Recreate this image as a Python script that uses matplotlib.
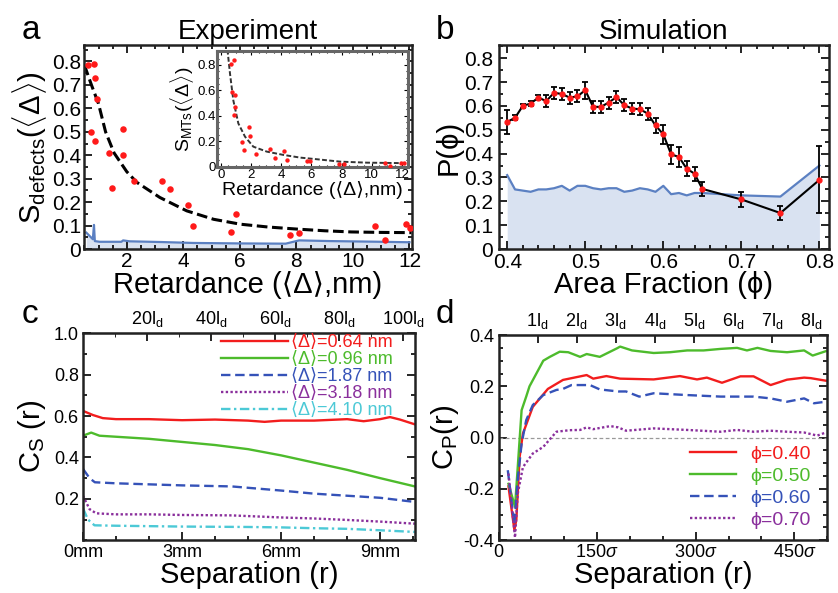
import numpy as np
import matplotlib
matplotlib.use("Agg")
import matplotlib.pyplot as plt
from matplotlib.ticker import AutoMinorLocator, MultipleLocator

plt.rcParams['font.family'] = ['Liberation Sans', 'DejaVu Sans']
plt.rcParams['mathtext.fontset'] = 'custom'
plt.rcParams['mathtext.rm'] = 'Liberation Sans'
plt.rcParams['mathtext.it'] = 'Liberation Sans:italic'
plt.rcParams['mathtext.bf'] = 'Liberation Sans:bold'

# ---------------- panel a: experiment ----------------
a_pts_x = [0.62, 0.84, 0.89, 0.93, 0.75, 0.86, 1.37, 1.49, 1.85, 1.88, 2.26, 3.23,
           3.53, 4.16, 4.36, 5.70, 5.87, 7.78, 8.10, 10.79, 11.12, 11.87, 12.02]
a_pts_y = [0.785, 0.79, 0.73, 0.64, 0.50, 0.46, 0.41, 0.26, 0.51, 0.40, 0.29, 0.29,
           0.256, 0.19, 0.10, 0.074, 0.149, 0.059, 0.07, 0.099, 0.039, 0.109, 0.09]
a_fit_x = [0.5, 0.75, 1.0, 1.25, 1.55, 2.0, 2.35, 3.17, 4.12, 5.07, 6.02, 7.0,
           8.04, 9.0, 9.94, 11.0, 12.07]
a_fit_y = [0.785, 0.70, 0.62, 0.50, 0.41, 0.33, 0.285, 0.22, 0.163, 0.127, 0.106,
           0.094, 0.085, 0.078, 0.073, 0.071, 0.07]
a_null_x = [0.57, 0.80, 0.84, 0.87, 1.04, 1.81, 1.87, 2.1, 3.2, 4.36, 6.0, 7.62,
            8.1, 9.2, 11.0, 12.0]
a_null_y = [0.07, 0.042, 0.103, 0.034, 0.031, 0.031, 0.037, 0.033, 0.03, 0.026,
            0.024, 0.023, 0.037, 0.034, 0.031, 0.029]

# inset
in_pts_x = [0.66, 0.88, 0.77, 0.92, 0.96, 0.88, 1.39, 1.52, 1.89, 1.94, 2.31, 3.26,
            3.59, 4.2, 4.4, 5.72, 5.92, 7.84, 8.15, 10.86, 11.19, 11.96, 12.11]
in_pts_y = [0.805, 0.84, 0.59, 0.56, 0.47, 0.41, 0.19, 0.134, 0.31, 0.24, 0.102,
            0.137, 0.071, 0.123, 0.053, 0.047, 0.042, 0.024, 0.024, 0.027, 0.008,
            0.027, 0.029]
in_fit_x = [0.44, 0.61, 0.83, 1.16, 1.6, 2.15, 3.04, 4.14, 5.24, 6.34, 7.9, 9.65, 12.18]
in_fit_y = [0.92, 0.73, 0.52, 0.34, 0.236, 0.157, 0.118, 0.092, 0.071, 0.058, 0.039,
            0.031, 0.027]

# ---------------- panel b: simulation ----------------
b_phi = [0.40, 0.41, 0.42, 0.43, 0.44, 0.45, 0.46, 0.47, 0.48, 0.49, 0.50, 0.51,
         0.52, 0.53, 0.54, 0.55, 0.56, 0.57, 0.58, 0.59, 0.60, 0.61, 0.62, 0.63,
         0.64, 0.65, 0.70, 0.75, 0.80]
b_p = [0.533, 0.55, 0.60, 0.61, 0.635, 0.62, 0.655, 0.65, 0.635, 0.64, 0.666, 0.596,
       0.596, 0.614, 0.637, 0.603, 0.589, 0.586, 0.568, 0.518, 0.481, 0.397, 0.386,
       0.337, 0.316, 0.252, 0.208, 0.151, 0.29]
b_err = [0.05, 0.01, 0.01, 0.01, 0.01, 0.025, 0.025, 0.025, 0.025, 0.025, 0.035,
         0.025, 0.025, 0.025, 0.025, 0.025, 0.025, 0.025, 0.025, 0.03, 0.04, 0.04,
         0.04, 0.03, 0.03, 0.03, 0.03, 0.03, 0.14]
b_null_x = [0.40, 0.41, 0.42, 0.43, 0.44, 0.45, 0.46, 0.47, 0.48, 0.49, 0.50, 0.51,
            0.52, 0.53, 0.54, 0.55, 0.56, 0.57, 0.58, 0.59, 0.60, 0.61, 0.62, 0.63,
            0.64, 0.65, 0.70, 0.75, 0.80]
b_null_y = [0.31, 0.25, 0.245, 0.24, 0.25, 0.25, 0.255, 0.265, 0.245, 0.265, 0.265,
            0.255, 0.25, 0.255, 0.255, 0.24, 0.245, 0.255, 0.25, 0.24, 0.265, 0.23,
            0.235, 0.225, 0.235, 0.235, 0.225, 0.22, 0.35]

# ---------------- panel c: experiment correlations ----------------
c_labels = ['⟨Δ⟩=0.64 nm', '⟨Δ⟩=0.96 nm', '⟨Δ⟩=1.87 nm', '⟨Δ⟩=3.18 nm',
            '⟨Δ⟩=4.10 nm']
c_red_x = [0, 0.3, 0.6, 1.0, 2, 3, 4, 5, 5.5, 6, 7, 8, 8.5, 9, 9.3, 9.6, 10.05]
c_red_y = [0.625, 0.605, 0.59, 0.585, 0.585, 0.58, 0.583, 0.578, 0.572, 0.578,
           0.578, 0.585, 0.575, 0.585, 0.595, 0.583, 0.56]
c_green_x = [0, 0.25, 0.5, 1, 2, 3, 4, 5, 6, 7, 8, 9, 10.05]
c_green_y = [0.505, 0.52, 0.505, 0.50, 0.49, 0.475, 0.46, 0.44, 0.41, 0.375, 0.34,
             0.30, 0.26]
c_blue_x = [0, 0.2, 0.36, 1, 2, 3, 4.5, 6, 7, 8, 9, 10.05]
c_blue_y = [0.345, 0.30, 0.28, 0.275, 0.27, 0.265, 0.26, 0.24, 0.225, 0.215, 0.205,
            0.185]
c_purple_x = [0, 0.2, 0.4, 1, 2, 3, 4.5, 6, 7, 8, 9, 10.05]
c_purple_y = [0.215, 0.15, 0.13, 0.125, 0.125, 0.122, 0.12, 0.11, 0.105, 0.098,
              0.09, 0.08]
c_cyan_x = [0, 0.15, 0.35, 1, 2, 3, 5, 6, 7, 8, 9, 10.05]
c_cyan_y = [0.155, 0.10, 0.072, 0.07, 0.068, 0.066, 0.064, 0.062, 0.058, 0.055,
            0.048, 0.04]

# ---------------- panel d: simulation correlations ----------------
d_labels = ['ϕ=0.40', 'ϕ=0.50', 'ϕ=0.60', 'ϕ=0.70']
d_red_x = [15, 24, 27, 32, 37, 52, 75, 98, 134, 144, 164, 185, 236, 276, 302, 317,
           340, 368, 388, 414, 439, 465, 475, 498]
d_red_y = [-0.19, -0.36, -0.32, -0.075, 0.016, 0.12, 0.19, 0.225, 0.244, 0.23, 0.24,
           0.23, 0.227, 0.24, 0.227, 0.234, 0.214, 0.239, 0.239, 0.205, 0.226, 0.234,
           0.232, 0.222]
d_green_x = [15, 25, 35, 42, 47, 68, 78, 93, 106, 124, 134, 154, 180, 185, 203, 236,
             261, 287, 312, 338, 363, 378, 394, 414, 439, 465, 478, 498]
d_green_y = [-0.18, -0.27, 0.107, 0.16, 0.2, 0.30, 0.315, 0.335, 0.333, 0.315, 0.326,
             0.315, 0.348, 0.355, 0.34, 0.33, 0.333, 0.34, 0.34, 0.346, 0.35, 0.34,
             0.35, 0.338, 0.333, 0.34, 0.32, 0.337]
d_blue_x = [14, 24, 29, 35, 42, 52, 68, 88, 98, 111, 139, 154, 182, 194, 214, 236,
            287, 338, 388, 414, 439, 465, 480, 498]
d_blue_y = [-0.127, -0.34, -0.166, -0.023, 0.068, 0.127, 0.166, 0.186, 0.19, 0.205,
            0.205, 0.188, 0.18, 0.18, 0.16, 0.173, 0.166, 0.16, 0.16, 0.153, 0.14,
            0.153, 0.134, 0.14]
d_purple_x = [15, 25, 29, 37, 52, 68, 88, 108, 124, 134, 144, 170, 182, 194, 236, 287,
              338, 363, 388, 414, 439, 465, 485, 498]
d_purple_y = [-0.14, -0.39, -0.22, -0.115, -0.062, -0.036, 0.023, 0.029, 0.03, 0.04,
              0.033, 0.045, 0.04, 0.027, 0.036, 0.03, 0.023, 0.03, 0.023, 0.027, 0.023,
              0.02, 0.008, 0.02]

RED = '#f21d1d'
GREEN = '#4dbb2c'
BLUE = '#3552b8'
PURPLE = '#8a2f9c'
CYAN = '#4cc9d6'
NULL_LINE = '#5b80c2'
NULL_FILL = '#d9e2f1'


def style_axis(ax, lw=1.8):
    for s in ax.spines.values():
        s.set_linewidth(lw)
        s.set_color('#222222')
    ax.tick_params(which='both', direction='in', top=True, right=True, width=1.2)
    ax.tick_params(which='major', length=6)
    ax.tick_params(which='minor', length=3)


fig = plt.figure(figsize=(8.38, 5.93), dpi=100)

# ---- a ----
ax_a = fig.add_axes([0.100, 0.580, 0.392, 0.344])
ax_a.fill_between(a_null_x, a_null_y, 0, color=NULL_FILL, lw=0)
ax_a.plot(a_null_x, a_null_y, color=NULL_LINE, lw=1.6)
ax_a.plot(a_fit_x, a_fit_y, color='black', ls=(0, (3.5, 1.5)), lw=2.2)
ax_a.scatter(a_pts_x, a_pts_y, s=22, color='#ff1a1a', zorder=3, lw=0)
ax_a.set_xlim(0.48, 12.1)
ax_a.set_ylim(0, 0.87)
ax_a.set_xticks([2, 4, 6, 8, 10, 12])
ax_a.set_yticks(np.arange(0, 0.81, 0.1))
ax_a.set_yticklabels(['0', '0.1', '0.2', '0.3', '0.4', '0.5', '0.6', '0.7', '0.8'])
ax_a.xaxis.set_minor_locator(MultipleLocator(0.5))
ax_a.yaxis.set_minor_locator(AutoMinorLocator(2))
style_axis(ax_a)
ax_a.tick_params(labelsize=15, pad=2)
ax_a.set_xlabel('Retardance (⟨Δ⟩,nm)', fontsize=21, labelpad=0)
ax_a.set_ylabel(r'S$_{\rm defects}$$(\langle\Delta\rangle)$', fontsize=21, labelpad=2)
ax_a.set_title('Experiment', fontsize=20, pad=3)

# inset
ax_in = fig.add_axes([0.259, 0.718, 0.228, 0.196])
ax_in.plot(in_fit_x, in_fit_y, color='#333333', ls=(0, (2.5, 1.2)), lw=1.4)
ax_in.scatter(in_pts_x, in_pts_y, s=10, color='#ff1a1a', zorder=3, lw=0)
ax_in.set_xlim(-0.25, 12.4)
ax_in.set_ylim(-0.005, 0.91)
ax_in.set_xticks([0, 2, 4, 6, 8, 10, 12])
ax_in.set_yticks([0, 0.2, 0.4, 0.6, 0.8])
ax_in.set_yticklabels(['0', '0.2', '0.4', '0.6', '0.8'])
ax_in.xaxis.set_minor_locator(MultipleLocator(0.5))
ax_in.yaxis.set_minor_locator(MultipleLocator(0.05))
for s in ax_in.spines.values():
    s.set_linewidth(2.2)
    s.set_color('#666666')
ax_in.tick_params(which='both', direction='in', top=True, right=True, labelsize=9.5,
                  pad=1, width=0.8)
ax_in.tick_params(which='major', length=3)
ax_in.tick_params(which='minor', length=1.5)
ax_in.set_xlabel('Retardance (⟨Δ⟩,nm)', fontsize=14, labelpad=0)
ax_in.set_ylabel(r'S$_{\rm MTs}$$(\langle\Delta\rangle)$', fontsize=14, labelpad=1)

# ---- b ----
ax_b = fig.add_axes([0.595, 0.580, 0.394, 0.344])
ax_b.fill_between(b_null_x, b_null_y, 0, color=NULL_FILL, lw=0)
ax_b.plot(b_null_x, b_null_y, color=NULL_LINE, lw=1.6)
ax_b.errorbar(b_phi, b_p, yerr=b_err, color='black', lw=1.5, elinewidth=1.3,
              capsize=2.5, capthick=1.3, marker='o', ms=3.5, mfc='#ff1a1a',
              mec='#ff1a1a', zorder=3)
ax_b.set_xlim(0.389, 0.812)
ax_b.set_ylim(0, 0.855)
ax_b.set_xticks([0.4, 0.5, 0.6, 0.7, 0.8])
ax_b.set_yticks(np.arange(0, 0.81, 0.1))
ax_b.set_yticklabels(['0', '0.1', '0.2', '0.3', '0.4', '0.5', '0.6', '0.7', '0.8'])
ax_b.xaxis.set_minor_locator(AutoMinorLocator(5))
ax_b.yaxis.set_minor_locator(AutoMinorLocator(2))
style_axis(ax_b)
ax_b.tick_params(labelsize=15)
ax_b.tick_params(axis='x', pad=3)
ax_b.tick_params(axis='y', pad=4)
ax_b.set_xlabel('Area Fraction (ϕ)', fontsize=21, labelpad=-1)
ax_b.set_ylabel('P(ϕ)', fontsize=21, labelpad=1)
ax_b.set_title('Simulation', fontsize=20, pad=3)

# ---- c ----
ax_c = fig.add_axes([0.099, 0.089, 0.396, 0.349])
ax_c.plot(c_red_x, c_red_y, color=RED, lw=1.7, label=c_labels[0])
ax_c.plot(c_green_x, c_green_y, color=GREEN, lw=1.7, label=c_labels[1])
ax_c.plot(c_blue_x, c_blue_y, color=BLUE, lw=1.7, ls=(0, (4, 2)), label=c_labels[2])
ax_c.plot(c_purple_x, c_purple_y, color=PURPLE, lw=1.7, ls=(0, (1, 1)), label=c_labels[3])
ax_c.plot(c_cyan_x, c_cyan_y, color=CYAN, lw=1.7, ls=(0, (4, 1.5, 1, 1.5)),
          label=c_labels[4])
ax_c.set_xlim(0, 10.05)
ax_c.set_ylim(0, 1.0)
ax_c.set_xticks([0, 3, 6, 9])
ax_c.set_xticklabels(['0mm', '3mm', '6mm', '9mm'])
ax_c.set_yticks([0.2, 0.4, 0.6, 0.8, 1.0])
ax_c.set_yticklabels(['0.2', '0.4', '0.6', '0.8', '1.0'])
ax_c.xaxis.set_minor_locator(AutoMinorLocator(3))
ax_c.yaxis.set_minor_locator(AutoMinorLocator(2))
style_axis(ax_c)
ax_c.tick_params(top=False, which='both')
ax_c.tick_params(labelsize=13, pad=3)
ax_c.set_xlabel('Separation (r)', fontsize=21, labelpad=0)
ax_c.set_ylabel(r'C$_{\rm S}$ (r)', fontsize=21, labelpad=4)
sec_c = ax_c.secondary_xaxis('top', functions=(lambda x: x / 0.097, lambda x: x * 0.097))
sec_c.set_xticks([20, 40, 60, 80, 100])
sec_c.set_xticklabels([r'20l$_{\rm d}$', r'40l$_{\rm d}$', r'60l$_{\rm d}$',
                       r'80l$_{\rm d}$', r'100l$_{\rm d}$'])
sec_c.tick_params(direction='in', length=6, width=1.2, labelsize=13, pad=3)
sec_c.xaxis.set_minor_locator(AutoMinorLocator(2))
sec_c.tick_params(which='minor', direction='in', length=3)
leg_c = ax_c.legend(loc='upper right', bbox_to_anchor=(0.955, 1.03), fontsize=13,
                    frameon=False, handlelength=3.7, handletextpad=0.15,
                    labelspacing=0.0, borderaxespad=0.0)
for t, l in zip(leg_c.get_texts(), leg_c.get_lines()):
    t.set_color(l.get_color())

# ---- d ----
ax_d = fig.add_axes([0.595, 0.089, 0.392, 0.346])
ax_d.axhline(0, color='#999999', ls=(0, (3, 2)), lw=0.9)
ax_d.plot(d_red_x, d_red_y, color=RED, lw=1.7, label=d_labels[0])
ax_d.plot(d_green_x, d_green_y, color=GREEN, lw=1.7, label=d_labels[1])
ax_d.plot(d_blue_x, d_blue_y, color=BLUE, lw=1.7, ls=(0, (4, 2)), label=d_labels[2])
ax_d.plot(d_purple_x, d_purple_y, color=PURPLE, lw=1.7, ls=(0, (1, 1)), label=d_labels[3])
ax_d.set_xlim(0, 500)
ax_d.set_ylim(-0.4, 0.4)
ax_d.set_xticks([0, 150, 300, 450])
ax_d.set_xticklabels(['0', r'150$\sigma$', r'300$\sigma$', r'450$\sigma$'])
ax_d.set_yticks([-0.4, -0.2, 0.0, 0.2, 0.4])
ax_d.set_yticklabels(['-0.4', '-0.2', '0.0', '0.2', '0.4'])
ax_d.xaxis.set_minor_locator(AutoMinorLocator(3))
ax_d.yaxis.set_minor_locator(AutoMinorLocator(4))
style_axis(ax_d)
ax_d.tick_params(top=False, which='both')
ax_d.tick_params(labelsize=13, pad=3)
ax_d.set_xlabel('Separation (r)', fontsize=21, labelpad=0)
ax_d.set_ylabel(r'C$_{\rm P}$(r)', fontsize=21, labelpad=2)
sec_d = ax_d.secondary_xaxis('top', functions=(lambda x: x / 59.4, lambda x: x * 59.4))
sec_d.set_xticks([1, 2, 3, 4, 5, 6, 7, 8])
sec_d.set_xticklabels([r'%dl$_{\rm d}$' % i for i in range(1, 9)])
sec_d.tick_params(direction='in', length=6, width=1.2, labelsize=13, pad=3)
leg_d = ax_d.legend(loc='lower right', fontsize=14, frameon=False, handlelength=2.4,
                    handletextpad=0.7, labelspacing=0.22, borderaxespad=0.2,
                    bbox_to_anchor=(0.985, 0.0))
for t, l in zip(leg_d.get_texts(), leg_d.get_lines()):
    t.set_color(l.get_color())

# panel letters
fig.text(0.026, 0.934, 'a', fontsize=24, va='baseline')
fig.text(0.520, 0.934, 'b', fontsize=24, va='baseline')
fig.text(0.026, 0.455, 'c', fontsize=24, va='baseline')
fig.text(0.520, 0.455, 'd', fontsize=24, va='baseline')

fig.savefig('out.png', dpi=100)
